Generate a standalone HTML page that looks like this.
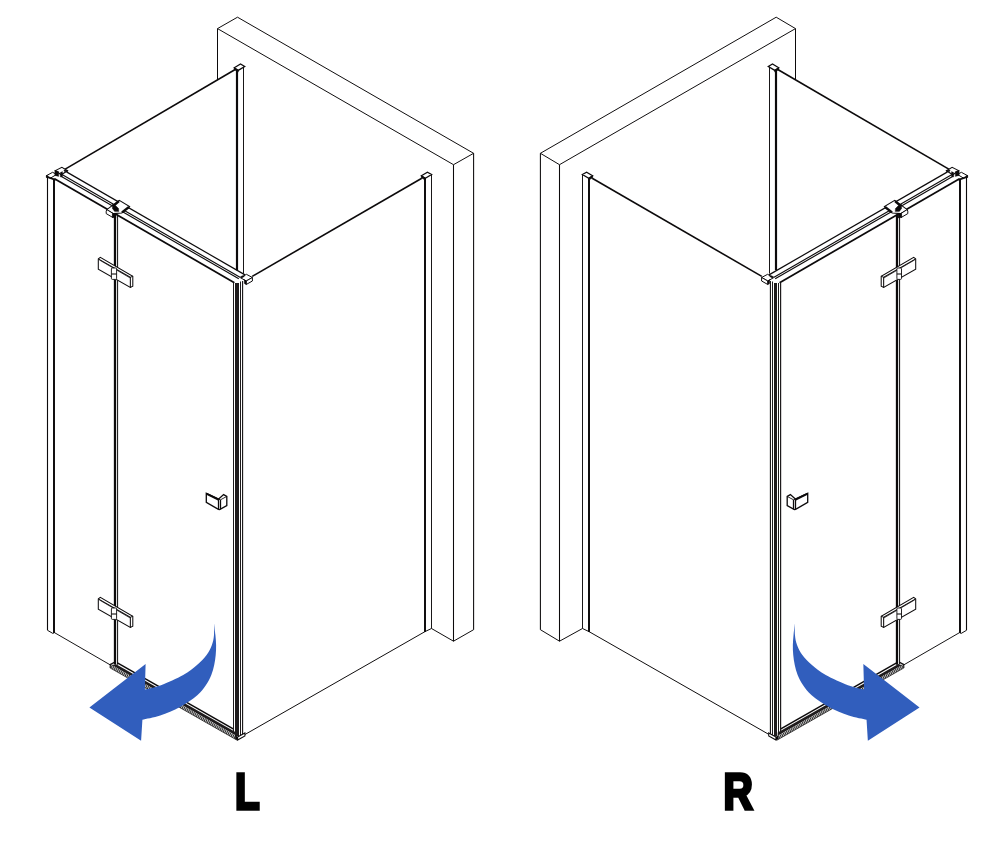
<!DOCTYPE html>
<html><head><meta charset="utf-8"><title>L / R</title>
<style>
html,body{margin:0;padding:0;background:#fff;}
svg{display:block;}
text{will-change:transform;font-family:"Liberation Sans",sans-serif;font-weight:bold;fill:#000;stroke:#000;stroke-width:3.3px;stroke-linejoin:miter;}
</style></head>
<body>
<svg width="999" height="848" viewBox="0 0 999 848">
<defs>
<pattern id="hatch" width="2" height="8" patternUnits="userSpaceOnUse" patternTransform="skewX(-25)">
<rect width="2" height="8" fill="#c4c4c4"/><rect width="1" height="8" fill="#2a2a2a"/>
</pattern>
</defs>
<rect width="999" height="848" fill="#fff"/>
<g id="unitL">
<path d="M217.50 28.60 L237.50 17.20 L473.60 153.30" fill="none" stroke="#0c0a0b" stroke-width="0.99" stroke-linejoin="miter"/>
<path d="M217.50 28.60 L453.50 164.70 L473.60 153.30" fill="none" stroke="#0c0a0b" stroke-width="0.99" stroke-linejoin="miter"/>
<line x1="217.50" y1="28.60" x2="217.50" y2="80.00" stroke="#0c0a0b" stroke-width="1.058" />
<line x1="453.50" y1="164.70" x2="453.50" y2="641.20" stroke="#0c0a0b" stroke-width="1.058" />
<line x1="473.60" y1="153.30" x2="473.60" y2="629.70" stroke="#0c0a0b" stroke-width="1.058" />
<path d="M431.50 628.50 L453.50 641.20 L473.60 629.70" fill="none" stroke="#0c0a0b" stroke-width="0.99" stroke-linejoin="miter"/>
<line x1="63.50" y1="170.10" x2="235.20" y2="69.50" stroke="#0c0a0b" stroke-width="1.584" />
<line x1="237.00" y1="69.50" x2="237.00" y2="270.30" stroke="#0c0a0b" stroke-width="2.178" />
<line x1="243.50" y1="67.00" x2="243.50" y2="273.60" stroke="#0c0a0b" stroke-width="0.946" />
<path d="M234.30 67.80 L240.50 64.00 L244.70 66.50 L238.20 70.40 Z" fill="#fff" stroke="#0c0a0b" stroke-width="1.265" stroke-linejoin="miter"/>
<path d="M234.30 67.80 L238.20 70.40 L238.20 72.00 L234.30 69.60 Z" fill="#0c0a0b" stroke="#0c0a0b" stroke-width="0.66" stroke-linejoin="miter"/>
<line x1="252.20" y1="276.40" x2="421.80" y2="178.20" stroke="#0c0a0b" stroke-width="1.584" />
<line x1="425.00" y1="176.50" x2="425.00" y2="632.00" stroke="#0c0a0b" stroke-width="1.954" />
<line x1="431.50" y1="174.50" x2="431.50" y2="628.50" stroke="#0c0a0b" stroke-width="0.946" />
<path d="M421.40 175.70 L427.40 172.20 L431.60 174.50 L425.30 178.20 Z" fill="#fff" stroke="#0c0a0b" stroke-width="1.265" stroke-linejoin="miter"/>
<path d="M421.40 175.70 L425.30 178.20 L425.30 180.00 L421.40 177.80 Z" fill="#0c0a0b" stroke="#0c0a0b" stroke-width="0.66" stroke-linejoin="miter"/>
<path d="M244.80 734.60 L425.00 631.60 L431.50 628.50" fill="none" stroke="#0c0a0b" stroke-width="0.99" stroke-linejoin="miter"/>
<line x1="47.50" y1="176.50" x2="47.50" y2="630.30" stroke="#0c0a0b" stroke-width="1.114" />
<line x1="54.00" y1="178.50" x2="54.00" y2="633.00" stroke="#0c0a0b" stroke-width="1.954" />
<path d="M47.50 630.30 L52.80 633.40 L54.60 632.60" fill="none" stroke="#0c0a0b" stroke-width="0.99" stroke-linejoin="miter"/>
<path d="M46.20 175.80 L52.60 172.30 L56.60 174.40 L50.40 178.20 Z" fill="#fff" stroke="#0c0a0b" stroke-width="0.99" stroke-linejoin="miter"/>
<path d="M46.20 175.60 L47.80 175.40 L47.80 177.60 L46.20 177.40 Z" fill="#0c0a0b" stroke="#0c0a0b" stroke-width="0.33" stroke-linejoin="miter"/>
<line x1="46.40" y1="176.60" x2="55.60" y2="180.00" stroke="#0c0a0b" stroke-width="1.8" />
<line x1="54.60" y1="632.70" x2="110.60" y2="665.10" stroke="#0c0a0b" stroke-width="0.96" />
<line x1="66.50" y1="171.87" x2="245.00" y2="274.87" stroke="#0c0a0b" stroke-width="1.2" />
<line x1="62.00" y1="174.57" x2="240.40" y2="277.51" stroke="#0c0a0b" stroke-width="1.14" />
<line x1="61.00" y1="176.20" x2="238.80" y2="278.79" stroke="#0c0a0b" stroke-width="1.14" />
<line x1="54.50" y1="178.85" x2="234.40" y2="282.65" stroke="#0c0a0b" stroke-width="1.74" />
<path d="M55.30 170.60 L61.90 167.30 L67.60 170.70 L61.20 174.80 Z" fill="#fff" stroke="#0c0a0b" stroke-width="1.045" stroke-linejoin="miter"/>
<path d="M54.80 170.30 L58.70 171.60 L58.70 176.40 L54.80 175.40 Z" fill="#0c0a0b" stroke="#0c0a0b" stroke-width="0.33" stroke-linejoin="miter"/>
<path d="M60.30 172.60 L62.50 171.60 L62.50 176.60 L60.30 177.00 Z" fill="#0c0a0b" stroke="#0c0a0b" stroke-width="0.33" stroke-linejoin="miter"/>
<path d="M63.80 170.00 L67.60 170.20 L67.60 171.60 L64.60 171.80 Z" fill="#0c0a0b" stroke="#0c0a0b" stroke-width="0.33" stroke-linejoin="miter"/>
<path d="M106.80 209.60 L119.30 200.30 L129.60 206.60 L121.70 212.90 L113.20 213.60 Z" fill="#fff" stroke="#0c0a0b" stroke-width="1.045" stroke-linejoin="miter"/>
<line x1="119.00" y1="201.20" x2="112.80" y2="206.40" stroke="#0c0a0b" stroke-width="2.4" />
<line x1="129.00" y1="207.00" x2="122.00" y2="212.40" stroke="#0c0a0b" stroke-width="2.4" />
<path d="M112.40 204.20 L115.60 205.60 L118.60 208.60 L118.80 211.60 L114.60 211.40 L112.40 208.40 Z" fill="#0c0a0b" stroke="#0c0a0b" stroke-width="0.33" stroke-linejoin="miter"/>
<path d="M106.20 211.20 L106.80 209.60 L113.00 213.40 L113.00 217.60 L106.20 213.60 Z" fill="#fff" stroke="#0c0a0b" stroke-width="0.99" stroke-linejoin="miter"/>
<path d="M112.30 213.20 L115.90 214.40 L115.90 218.00 L112.30 217.40 Z" fill="#0c0a0b" stroke="#0c0a0b" stroke-width="0.33" stroke-linejoin="miter"/>
<line x1="115.00" y1="214.00" x2="115.00" y2="664.30" stroke="#0c0a0b" stroke-width="2.29" />
<line x1="117.60" y1="214.50" x2="117.60" y2="664.80" stroke="#0c0a0b" stroke-width="1.002" />
<path d="M98.30 258.90 L100.30 257.40 L132.80 276.20 L132.80 286.20 L130.35 287.50 L98.30 269.30 Z" fill="#fff" stroke="#0c0a0b" stroke-width="1.045" stroke-linejoin="miter"/>
<path d="M98.30 258.90 L130.35 277.30 L130.35 287.50" fill="none" stroke="#0c0a0b" stroke-width="1.045" stroke-linejoin="miter"/>
<line x1="130.35" y1="277.30" x2="132.80" y2="276.20" stroke="#0c0a0b" stroke-width="0.96" />
<line x1="99.30" y1="259.90" x2="130.00" y2="277.90" stroke="#0c0a0b" stroke-width="0.72" />
<rect x="111.4" y="268.00" width="5.2" height="11.4" rx="1" fill="#fff" stroke="#0c0a0b" stroke-width="0.9"/>
<line x1="111.40" y1="274.00" x2="116.60" y2="274.00" stroke="#0c0a0b" stroke-width="1.08" />
<path d="M98.30 598.90 L100.30 597.40 L132.80 616.20 L132.80 626.20 L130.35 627.50 L98.30 609.30 Z" fill="#fff" stroke="#0c0a0b" stroke-width="1.045" stroke-linejoin="miter"/>
<path d="M98.30 598.90 L130.35 617.30 L130.35 627.50" fill="none" stroke="#0c0a0b" stroke-width="1.045" stroke-linejoin="miter"/>
<line x1="130.35" y1="617.30" x2="132.80" y2="616.20" stroke="#0c0a0b" stroke-width="0.96" />
<line x1="99.30" y1="599.90" x2="130.00" y2="617.90" stroke="#0c0a0b" stroke-width="0.72" />
<rect x="111.4" y="608.00" width="5.2" height="11.4" rx="1" fill="#fff" stroke="#0c0a0b" stroke-width="0.9"/>
<line x1="111.40" y1="614.00" x2="116.60" y2="614.00" stroke="#0c0a0b" stroke-width="1.08" />
<path d="M206.30 493.40 L218.40 499.20 L223.60 494.60 L226.80 496.40 L226.80 505.60 L219.60 509.60 L218.40 509.30 L206.30 502.40 Z" fill="#fff" stroke="#0c0a0b" stroke-width="1.32" stroke-linejoin="miter"/>
<line x1="206.30" y1="493.70" x2="218.40" y2="499.50" stroke="#0c0a0b" stroke-width="2.04" />
<line x1="218.50" y1="499.20" x2="218.50" y2="509.30" stroke="#0c0a0b" stroke-width="1.282" />
<line x1="220.50" y1="499.80" x2="220.50" y2="509.40" stroke="#0c0a0b" stroke-width="1.282" />
<path d="M218.50 499.20 L220.50 499.80 L226.80 496.40" fill="none" stroke="#0c0a0b" stroke-width="0.88" stroke-linejoin="miter"/>
<path d="M240.60 277.80 L246.40 274.30 L252.40 277.50 L246.20 281.00 Z" fill="#fff" stroke="#0c0a0b" stroke-width="0.99" stroke-linejoin="miter"/>
<path d="M252.40 277.50 L252.40 281.00 L246.20 284.50 L246.20 281.00 Z" fill="#fff" stroke="#0c0a0b" stroke-width="0.99" stroke-linejoin="miter"/>
<path d="M244.40 279.60 L246.20 281.00 L246.20 284.50 L244.40 283.40 Z" fill="#0c0a0b" stroke="#0c0a0b" stroke-width="0.55" stroke-linejoin="miter"/>
<path d="M240.40 276.80 L243.20 275.40 L244.40 276.40 L241.60 278.00 Z" fill="#0c0a0b" stroke="#0c0a0b" stroke-width="0.44" stroke-linejoin="miter"/>
<line x1="117.40" y1="662.90" x2="233.20" y2="728.79" stroke="#0c0a0b" stroke-width="1.5" />
<path d="M115.60 663.88 L236.30 732.55 L236.30 735.85 L112.00 665.13 Z" fill="#1e1b1c" stroke="#0c0a0b" stroke-width="0.0" stroke-linejoin="miter"/>
<line x1="110.20" y1="664.50" x2="114.40" y2="662.40" stroke="#0c0a0b" stroke-width="1.32" />
<line x1="110.20" y1="664.40" x2="113.00" y2="665.90" stroke="#0c0a0b" stroke-width="1.2" />
<path d="M110.20 664.10 L237.00 736.25 L237.00 740.25 L110.20 668.10 Z" fill="url(#hatch)" stroke="#0c0a0b" stroke-width="0.0" stroke-linejoin="miter"/>
<line x1="110.20" y1="663.90" x2="110.20" y2="668.10" stroke="#0c0a0b" stroke-width="1.058" />
<line x1="110.20" y1="668.00" x2="237.00" y2="740.15" stroke="#0c0a0b" stroke-width="0.66" />
</g>
<g id="unitR" transform="translate(1014,0) scale(-1,1)">
<path d="M218.50 28.60 L237.80 17.20 L473.60 153.30" fill="none" stroke="#0c0a0b" stroke-width="0.99" stroke-linejoin="miter"/>
<path d="M218.50 28.60 L454.50 164.70 L473.60 153.30" fill="none" stroke="#0c0a0b" stroke-width="0.99" stroke-linejoin="miter"/>
<line x1="218.50" y1="28.60" x2="218.50" y2="79.42" stroke="#0c0a0b" stroke-width="1.058" />
<line x1="454.50" y1="164.70" x2="454.50" y2="641.20" stroke="#0c0a0b" stroke-width="1.058" />
<line x1="473.60" y1="153.30" x2="473.60" y2="629.70" stroke="#0c0a0b" stroke-width="1.058" />
<path d="M431.50 628.50 L454.50 641.20 L473.60 629.70" fill="none" stroke="#0c0a0b" stroke-width="0.99" stroke-linejoin="miter"/>
<line x1="63.50" y1="170.10" x2="236.20" y2="69.50" stroke="#0c0a0b" stroke-width="1.584" />
<line x1="238.00" y1="69.50" x2="238.00" y2="270.30" stroke="#0c0a0b" stroke-width="2.178" />
<line x1="244.50" y1="67.00" x2="244.50" y2="273.60" stroke="#0c0a0b" stroke-width="0.946" />
<path d="M235.30 67.80 L241.50 64.00 L245.70 66.50 L239.20 70.40 Z" fill="#fff" stroke="#0c0a0b" stroke-width="1.265" stroke-linejoin="miter"/>
<path d="M235.30 67.80 L239.20 70.40 L239.20 72.00 L235.30 69.60 Z" fill="#0c0a0b" stroke="#0c0a0b" stroke-width="0.66" stroke-linejoin="miter"/>
<line x1="252.20" y1="276.40" x2="421.80" y2="178.20" stroke="#0c0a0b" stroke-width="1.584" />
<line x1="425.00" y1="176.50" x2="425.00" y2="632.00" stroke="#0c0a0b" stroke-width="1.954" />
<line x1="431.50" y1="174.50" x2="431.50" y2="628.50" stroke="#0c0a0b" stroke-width="0.946" />
<path d="M421.40 175.70 L427.40 172.20 L431.60 174.50 L425.30 178.20 Z" fill="#fff" stroke="#0c0a0b" stroke-width="1.265" stroke-linejoin="miter"/>
<path d="M421.40 175.70 L425.30 178.20 L425.30 180.00 L421.40 177.80 Z" fill="#0c0a0b" stroke="#0c0a0b" stroke-width="0.66" stroke-linejoin="miter"/>
<path d="M244.80 734.60 L425.00 631.60 L431.50 628.50" fill="none" stroke="#0c0a0b" stroke-width="0.99" stroke-linejoin="miter"/>
<line x1="47.50" y1="176.50" x2="47.50" y2="630.30" stroke="#0c0a0b" stroke-width="1.114" />
<line x1="54.00" y1="178.50" x2="54.00" y2="633.00" stroke="#0c0a0b" stroke-width="1.954" />
<path d="M47.50 630.30 L52.80 633.40 L54.60 632.60" fill="none" stroke="#0c0a0b" stroke-width="0.99" stroke-linejoin="miter"/>
<path d="M46.20 175.80 L52.60 172.30 L56.60 174.40 L50.40 178.20 Z" fill="#fff" stroke="#0c0a0b" stroke-width="0.99" stroke-linejoin="miter"/>
<path d="M46.20 175.60 L47.80 175.40 L47.80 177.60 L46.20 177.40 Z" fill="#0c0a0b" stroke="#0c0a0b" stroke-width="0.33" stroke-linejoin="miter"/>
<line x1="46.40" y1="176.60" x2="55.60" y2="180.00" stroke="#0c0a0b" stroke-width="1.8" />
<line x1="54.60" y1="632.70" x2="110.60" y2="665.10" stroke="#0c0a0b" stroke-width="0.96" />
<line x1="66.50" y1="171.87" x2="245.00" y2="274.87" stroke="#0c0a0b" stroke-width="1.2" />
<line x1="62.00" y1="174.57" x2="240.40" y2="277.51" stroke="#0c0a0b" stroke-width="1.14" />
<line x1="61.00" y1="176.20" x2="238.80" y2="278.79" stroke="#0c0a0b" stroke-width="1.14" />
<line x1="54.50" y1="178.85" x2="234.40" y2="282.65" stroke="#0c0a0b" stroke-width="1.74" />
<path d="M55.30 170.60 L61.90 167.30 L67.60 170.70 L61.20 174.80 Z" fill="#fff" stroke="#0c0a0b" stroke-width="1.045" stroke-linejoin="miter"/>
<path d="M54.80 170.30 L58.70 171.60 L58.70 176.40 L54.80 175.40 Z" fill="#0c0a0b" stroke="#0c0a0b" stroke-width="0.33" stroke-linejoin="miter"/>
<path d="M60.30 172.60 L62.50 171.60 L62.50 176.60 L60.30 177.00 Z" fill="#0c0a0b" stroke="#0c0a0b" stroke-width="0.33" stroke-linejoin="miter"/>
<path d="M63.80 170.00 L67.60 170.20 L67.60 171.60 L64.60 171.80 Z" fill="#0c0a0b" stroke="#0c0a0b" stroke-width="0.33" stroke-linejoin="miter"/>
<path d="M106.80 209.60 L119.30 200.30 L129.60 206.60 L121.70 212.90 L113.20 213.60 Z" fill="#fff" stroke="#0c0a0b" stroke-width="1.045" stroke-linejoin="miter"/>
<line x1="119.00" y1="201.20" x2="112.80" y2="206.40" stroke="#0c0a0b" stroke-width="2.4" />
<line x1="129.00" y1="207.00" x2="122.00" y2="212.40" stroke="#0c0a0b" stroke-width="2.4" />
<path d="M112.40 204.20 L115.60 205.60 L118.60 208.60 L118.80 211.60 L114.60 211.40 L112.40 208.40 Z" fill="#0c0a0b" stroke="#0c0a0b" stroke-width="0.33" stroke-linejoin="miter"/>
<path d="M106.20 211.20 L106.80 209.60 L113.00 213.40 L113.00 217.60 L106.20 213.60 Z" fill="#fff" stroke="#0c0a0b" stroke-width="0.99" stroke-linejoin="miter"/>
<path d="M112.30 213.20 L115.90 214.40 L115.90 218.00 L112.30 217.40 Z" fill="#0c0a0b" stroke="#0c0a0b" stroke-width="0.33" stroke-linejoin="miter"/>
<line x1="117.00" y1="214.50" x2="117.00" y2="664.80" stroke="#0c0a0b" stroke-width="2.29" />
<line x1="114.40" y1="214.00" x2="114.40" y2="664.30" stroke="#0c0a0b" stroke-width="1.002" />
<path d="M98.30 258.90 L100.30 257.40 L132.80 276.20 L132.80 286.20 L130.35 287.50 L98.30 269.30 Z" fill="#fff" stroke="#0c0a0b" stroke-width="1.045" stroke-linejoin="miter"/>
<path d="M98.30 258.90 L130.35 277.30 L130.35 287.50" fill="none" stroke="#0c0a0b" stroke-width="1.045" stroke-linejoin="miter"/>
<line x1="130.35" y1="277.30" x2="132.80" y2="276.20" stroke="#0c0a0b" stroke-width="0.96" />
<line x1="99.30" y1="259.90" x2="130.00" y2="277.90" stroke="#0c0a0b" stroke-width="0.72" />
<rect x="112.5" y="268.00" width="4.6" height="11.4" rx="1" fill="#fff" stroke="#0c0a0b" stroke-width="0.9"/>
<line x1="112.50" y1="274.00" x2="117.10" y2="274.00" stroke="#0c0a0b" stroke-width="1.08" />
<path d="M98.30 598.90 L100.30 597.40 L132.80 616.20 L132.80 626.20 L130.35 627.50 L98.30 609.30 Z" fill="#fff" stroke="#0c0a0b" stroke-width="1.045" stroke-linejoin="miter"/>
<path d="M98.30 598.90 L130.35 617.30 L130.35 627.50" fill="none" stroke="#0c0a0b" stroke-width="1.045" stroke-linejoin="miter"/>
<line x1="130.35" y1="617.30" x2="132.80" y2="616.20" stroke="#0c0a0b" stroke-width="0.96" />
<line x1="99.30" y1="599.90" x2="130.00" y2="617.90" stroke="#0c0a0b" stroke-width="0.72" />
<rect x="112.5" y="608.00" width="4.6" height="11.4" rx="1" fill="#fff" stroke="#0c0a0b" stroke-width="0.9"/>
<line x1="112.50" y1="614.00" x2="117.10" y2="614.00" stroke="#0c0a0b" stroke-width="1.08" />
<path d="M206.30 493.40 L218.40 499.20 L223.60 494.60 L226.80 496.40 L226.80 505.60 L219.60 509.60 L218.40 509.30 L206.30 502.40 Z" fill="#fff" stroke="#0c0a0b" stroke-width="1.32" stroke-linejoin="miter"/>
<line x1="206.30" y1="493.70" x2="218.40" y2="499.50" stroke="#0c0a0b" stroke-width="2.04" />
<line x1="218.50" y1="499.20" x2="218.50" y2="509.30" stroke="#0c0a0b" stroke-width="1.282" />
<line x1="220.50" y1="499.80" x2="220.50" y2="509.40" stroke="#0c0a0b" stroke-width="1.282" />
<path d="M218.50 499.20 L220.50 499.80 L226.80 496.40" fill="none" stroke="#0c0a0b" stroke-width="0.88" stroke-linejoin="miter"/>
<path d="M240.60 277.80 L246.40 274.30 L252.40 277.50 L246.20 281.00 Z" fill="#fff" stroke="#0c0a0b" stroke-width="0.99" stroke-linejoin="miter"/>
<path d="M252.40 277.50 L252.40 281.00 L246.20 284.50 L246.20 281.00 Z" fill="#fff" stroke="#0c0a0b" stroke-width="0.99" stroke-linejoin="miter"/>
<path d="M244.40 279.60 L246.20 281.00 L246.20 284.50 L244.40 283.40 Z" fill="#0c0a0b" stroke="#0c0a0b" stroke-width="0.55" stroke-linejoin="miter"/>
<path d="M240.40 276.80 L243.20 275.40 L244.40 276.40 L241.60 278.00 Z" fill="#0c0a0b" stroke="#0c0a0b" stroke-width="0.44" stroke-linejoin="miter"/>
<line x1="117.40" y1="662.90" x2="233.20" y2="728.79" stroke="#0c0a0b" stroke-width="1.5" />
<path d="M115.60 663.88 L236.30 732.55 L236.30 735.85 L112.00 665.13 Z" fill="#1e1b1c" stroke="#0c0a0b" stroke-width="0.0" stroke-linejoin="miter"/>
<line x1="110.20" y1="664.50" x2="114.40" y2="662.40" stroke="#0c0a0b" stroke-width="1.32" />
<line x1="110.20" y1="664.40" x2="113.00" y2="665.90" stroke="#0c0a0b" stroke-width="1.2" />
<path d="M110.20 664.10 L237.00 736.25 L237.00 740.25 L110.20 668.10 Z" fill="url(#hatch)" stroke="#0c0a0b" stroke-width="0.0" stroke-linejoin="miter"/>
<line x1="110.20" y1="663.90" x2="110.20" y2="668.10" stroke="#0c0a0b" stroke-width="1.058" />
<line x1="110.20" y1="668.00" x2="237.00" y2="740.15" stroke="#0c0a0b" stroke-width="0.66" />
</g>
<rect x="233" y="283" width="1" height="450.79999999999995" fill="#1e1b1c"/>
<rect x="235" y="283" width="4" height="453.0" fill="#1e1b1c"/>
<rect x="240" y="281.5" width="1" height="454.1" fill="#1e1b1c"/>
<rect x="242" y="281" width="1.15" height="453.4" fill="#1e1b1c"/>
<rect x="769.85" y="281" width="1.15" height="452.79999999999995" fill="#1e1b1c"/>
<rect x="772" y="281.5" width="1" height="453.29999999999995" fill="#1e1b1c"/>
<rect x="774" y="283" width="3" height="453.0" fill="#1e1b1c"/>
<rect x="778" y="283" width="1" height="452.0" fill="#1e1b1c"/>
<rect x="780" y="283" width="1.2" height="450.6" fill="#1e1b1c"/>
<g><path d="M237.60 737.00 L244.90 733.00 L244.90 736.00 L237.60 740.00 Z" fill="#fff" stroke="#0c0a0b" stroke-width="1.045" stroke-linejoin="miter"/>
<path d="M235.40 735.60 L237.60 737.00 L237.60 740.00 L235.40 738.80 Z" fill="#0c0a0b" stroke="#0c0a0b" stroke-width="0.44" stroke-linejoin="miter"/></g>
<g transform="translate(1013.6,0) scale(-1,1)"><path d="M237.60 737.00 L244.90 733.00 L244.90 736.00 L237.60 740.00 Z" fill="#fff" stroke="#0c0a0b" stroke-width="1.045" stroke-linejoin="miter"/>
<path d="M235.40 735.60 L237.60 737.00 L237.60 740.00 L235.40 738.80 Z" fill="#0c0a0b" stroke="#0c0a0b" stroke-width="0.44" stroke-linejoin="miter"/></g>
<g id="arrowL"><path d="M214.0 623.3 C214.23 625.25 215.05 631.37 215.40 635.00 C215.75 638.63 216.05 641.75 216.10 645.10 C216.15 648.45 216.02 651.77 215.70 655.10 C215.38 658.43 214.93 661.77 214.20 665.10 C213.47 668.43 212.67 671.77 211.30 675.10 C209.93 678.43 208.33 681.75 206.00 685.10 C203.67 688.45 201.63 691.53 197.30 695.20 C192.97 698.87 186.18 703.70 180.00 707.10 C173.82 710.50 166.47 713.48 160.20 715.60 C153.93 717.72 145.37 719.10 142.40 719.80 L141.1 740.7 L89.4 707.4 L145.6 664.0 L144.9 689.6 C147.58 688.88 154.62 687.72 161.00 685.30 C167.38 682.88 177.20 678.47 183.20 675.10 C189.20 671.73 193.10 668.43 197.00 665.10 C200.90 661.77 204.12 658.43 206.60 655.10 C209.08 651.77 210.67 648.45 211.90 645.10 C213.13 641.75 213.65 638.63 214.00 635.00 C214.35 631.37 214.00 625.25 214.00 623.30 Z" fill="#315ebd"/></g>
<g id="arrowR" transform="translate(1008.95,0) scale(-1,1)"><path d="M214.0 623.3 C214.23 625.25 215.05 631.37 215.40 635.00 C215.75 638.63 216.05 641.75 216.10 645.10 C216.15 648.45 216.02 651.77 215.70 655.10 C215.38 658.43 214.93 661.77 214.20 665.10 C213.47 668.43 212.67 671.77 211.30 675.10 C209.93 678.43 208.33 681.75 206.00 685.10 C203.67 688.45 201.63 691.53 197.30 695.20 C192.97 698.87 186.18 703.70 180.00 707.10 C173.82 710.50 166.47 713.48 160.20 715.60 C153.93 717.72 145.37 719.10 142.40 719.80 L141.1 740.7 L89.4 707.4 L145.6 664.0 L144.9 689.6 C147.58 688.88 154.62 687.72 161.00 685.30 C167.38 682.88 177.20 678.47 183.20 675.10 C189.20 671.73 193.10 668.43 197.00 665.10 C200.90 661.77 204.12 658.43 206.60 655.10 C209.08 651.77 210.67 648.45 211.90 645.10 C213.13 641.75 213.65 638.63 214.00 635.00 C214.35 631.37 214.00 625.25 214.00 623.30 Z" fill="#315ebd"/></g>
<text id="tL" transform="translate(235.1,809.4) scale(0.815,1)" font-size="49.5">L</text>
<text id="tR" transform="translate(723.4,808.5) scale(0.82,1)" font-size="49.5">R</text>
</svg>
</body></html>
